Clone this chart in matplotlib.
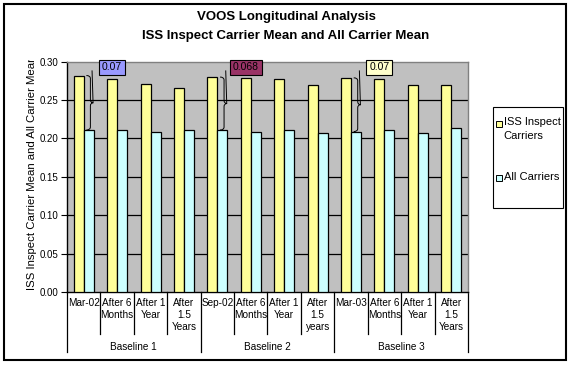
import matplotlib
matplotlib.use("Agg")
import matplotlib.pyplot as plt
from matplotlib.patches import Rectangle, PathPatch
from matplotlib.path import Path
from matplotlib.lines import Line2D
from matplotlib.transforms import Bbox, TransformedBbox
import numpy as np

# ---------------- data ----------------
categories = ["Mar-02", "After 6\nMonths", "After 1\nYear", "After\n1.5\nYears",
              "Sep-02", "After 6\nMonths", "After 1\nYear", "After\n1.5\nyears",
              "Mar-03", "After 6\nMonths", "After 1\nYear", "After\n1.5\nYears"]
groups = ["Baseline 1", "Baseline 2", "Baseline 3"]
group_size = 4
series_names = ["ISS Inspect\nCarriers", "All Carriers"]
iss_values = [0.282, 0.278, 0.271, 0.266, 0.280, 0.279, 0.278, 0.269, 0.279, 0.278, 0.269, 0.270]
all_values = [0.211, 0.211, 0.208, 0.211, 0.211, 0.208, 0.211, 0.207, 0.209, 0.211, 0.207, 0.214]
diff_index = [0, 4, 8]
diff_labels = ["0.07", "0.068", "0.07"]
diff_colors = ["#9999FF", "#993366", "#FFFFCC"]
yticks = [0.00, 0.05, 0.10, 0.15, 0.20, 0.25, 0.30]
title = "VOOS Longitudinal Analysis\nISS Inspect Carrier Mean and All Carrier Mean"
ylabel = "ISS Inspect Carrier Mean and All Carrier Mean"

plt.rcParams['font.family'] = ['Liberation Sans', 'DejaVu Sans']

W, H = 572, 365
fig = plt.figure(figsize=(W / 100, H / 100), dpi=100)

def fx(px):
    return px / W

def fy(py):
    return 1 - py / H

# outer frame
fig.patches.append(Rectangle((fx(4), fy(360)), fx(562), (356) / H, transform=fig.transFigure,
                             fill=False, ec="black", lw=1.5))

ax = fig.add_axes([fx(67), fy(292), fx(468 - 67), (292 - 61.7) / H])
ax.set_facecolor("#C0C0C0")
x = np.arange(len(categories))
bw = 0.3
ax.bar(x - bw / 2, iss_values, bw, color="#FFFF99", edgecolor="black", linewidth=0.9, zorder=3)
ax.bar(x + bw / 2, all_values, bw, color="#CCFFFF", edgecolor="black", linewidth=0.9, zorder=3)
ax.set_xlim(-0.5, len(categories) - 0.5)
ax.set_ylim(0, 0.30)
ax.set_yticks(yticks)
ax.set_yticklabels([f"{v:.2f}" for v in yticks], fontsize=7)
ax.tick_params(axis="y", direction="out", length=4, width=0.8, pad=2)
ax.set_xticks([])
for v in yticks[1:-1]:
    ax.axhline(v, color="black", lw=0.9, zorder=1)
ax.spines["left"].set_color("black")
ax.spines["bottom"].set_color("black")
ax.spines["top"].set_color("#808080")
ax.spines["right"].set_color("#808080")
for s in ax.spines.values():
    s.set_linewidth(1.0)

# multi-level axis
tr = ax.get_xaxis_transform()
ah = 292 - 61.7
def ay(py):
    return (292 - py) / ah
for b in np.arange(len(categories) + 1) - 0.5:
    is_group = (int(b + 0.5) % group_size == 0)
    yb = ay(352) if is_group else ay(334)
    ax.add_line(Line2D([b, b], [0, yb], transform=tr, color="black", lw=0.9, clip_on=False))
for i, c in enumerate(categories):
    ax.text(i, ay(298), c, transform=tr, ha="center", va="top", fontsize=7.2,
            linespacing=1.22, clip_on=False)
for g, name in enumerate(groups):
    ax.text(g * group_size + (group_size - 1) / 2, ay(347), name, transform=tr,
            ha="center", va="center", fontsize=7.2, clip_on=False)

# braces and difference labels
def brace(ax, x0, ytop, ybot, w):
    ym = (ytop + ybot) / 2
    dy = 0.004
    verts = [(x0, ytop), (x0 + w * 0.6, ytop), (x0 + w * 0.6, ytop - dy),
             (x0 + w * 0.6, ym + dy), (x0 + w * 0.6, ym), (x0 + w, ym),
             (x0 + w * 0.6, ym), (x0 + w * 0.6, ym - dy),
             (x0 + w * 0.6, ybot + dy), (x0 + w * 0.6, ybot), (x0, ybot)]
    codes = [Path.MOVETO, Path.CURVE3, Path.CURVE3, Path.LINETO, Path.CURVE3, Path.CURVE3,
             Path.CURVE3, Path.CURVE3, Path.LINETO, Path.CURVE3, Path.CURVE3]
    ax.add_patch(PathPatch(Path(verts, codes), fill=False, ec="black", lw=0.7, zorder=5))
    return x0 + w, ym

for k, i in enumerate(diff_index):
    tipx, tipy = brace(ax, i + 0.08, iss_values[i], all_values[i], 0.2)
    ax.plot([tipx, tipx - 0.03], [tipy, 0.288], color="black", lw=0.7, zorder=5)
    ax.text(i + 0.85, 0.2925, diff_labels[k], ha="center", va="center", fontsize=7.5,
            zorder=6, clip_on=False,
            bbox=dict(boxstyle="square,pad=0.28", fc=diff_colors[k], ec="black", lw=0.8))

# y label (clipped at plot top like the original)
yl = fig.text(fx(32), fy(290), ylabel, rotation=90, ha="center", va="bottom", fontsize=8.2)
yl.set_clip_box(TransformedBbox(Bbox([[0, 0], [1, fy(60)]]), fig.transFigure))
yl.set_clip_on(True)

# title
fig.text(fx(286), fy(17), title.split("\n")[0], ha="center", va="center",
         fontsize=9.5, fontweight="bold")
fig.text(fx(286), fy(36), title.split("\n")[1], ha="center", va="center",
         fontsize=9.5, fontweight="bold")

# legend
fig.patches.append(Rectangle((fx(493), fy(208)), fx(70), 101 / H, transform=fig.transFigure,
                             fc="white", ec="black", lw=0.8))
leg_colors = ["#FFFF99", "#CCFFFF"]
leg_y = [124, 178]
for name, col, ly in zip(series_names, leg_colors, leg_y):
    fig.patches.append(Rectangle((fx(496), fy(ly + 3)), fx(6), 6 / H, transform=fig.transFigure,
                                 fc=col, ec="black", lw=0.7))
    fig.text(fx(503.5), fy(ly - 6.5), name, ha="left", va="top", fontsize=8, linespacing=1.4)

fig.savefig("out.png", dpi=100)
